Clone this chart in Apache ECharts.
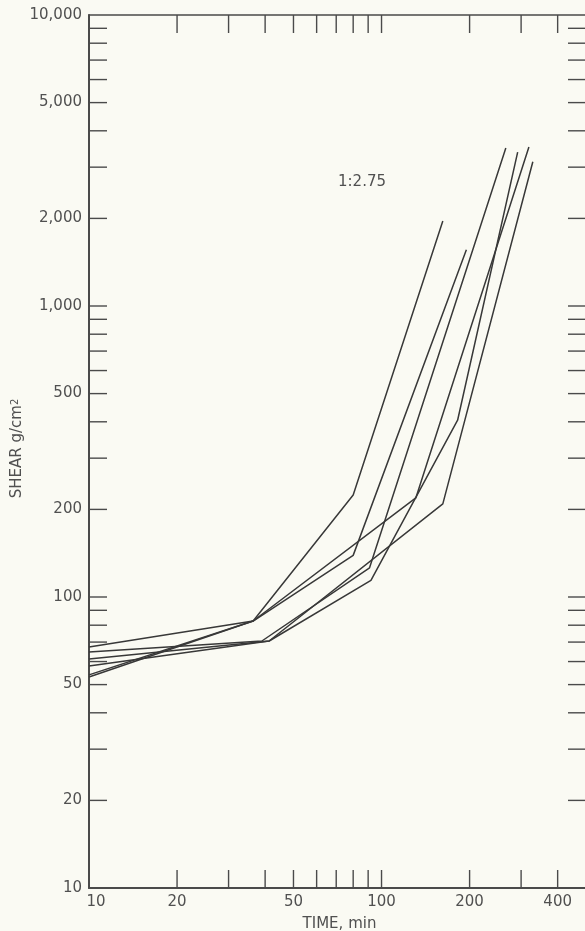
<!DOCTYPE html>
<html>
<head>
<meta charset="utf-8">
<script src="https://cdn.jsdelivr.net/npm/echarts@6/dist/echarts.min.js"></script>
<style>
html,body{margin:0;padding:0;background:#fafaf3;}
#chart{width:585px;height:931px;}
</style>
</head>
<body>
<div id="chart"></div>
<script>
// ---- data ----
const timeA = [10, 36.4, 80, 162];
const shearA = [53.1, 82.7, 224, 1960];
const timeB = [10, 36.4, 80, 195];
const shearB = [67.3, 82.7, 139, 1560];
const timeC = [10, 39, 91, 266];
const shearC = [64.7, 70.6, 126, 3490];
const timeD = [10, 41.3, 162, 329];
const shearD = [57.9, 70.6, 209, 3130];
const timeE = [10, 36.4, 131, 319];
const shearE = [54.0, 82.7, 219, 3520];
const timeF = [10, 41.3, 92, 182, 292];
const shearF = [61.2, 70.6, 114, 405, 3380];

const xTickValues = [20, 30, 40, 50, 60, 70, 80, 90, 100, 200, 300, 400];
const yTickValues = [20, 30, 40, 50, 60, 70, 80, 90, 100, 200, 300, 400, 500, 600, 700, 800, 900,
                     1000, 2000, 3000, 4000, 5000, 6000, 7000, 8000, 9000];
const xLabelValues = [10, 20, 50, 100, 200, 400];
const xTickLabels = ['10', '20', '50', '100', '200', '400'];
const yLabelValues = [10, 20, 50, 100, 200, 500, 1000, 2000, 5000, 10000];
const yTickLabels = ['10', '20', '50', '100', '200', '500', '1,000', '2,000', '5,000', '10,000'];

const X_MIN = 10, X_MAX = 500, Y_MIN = 10, Y_MAX = 10000;
const INK = '#383838';
const AXIS = '#4a4a4a';
const TEXT = '#505050';
const FONT = '15px "DejaVu Sans"';
const TICK = 18;

function pairs(xs, ys) { return xs.map((x, i) => [x, ys[i]]); }

const lineSeries = [
  [timeA, shearA], [timeB, shearB], [timeC, shearC],
  [timeD, shearD], [timeE, shearE], [timeF, shearF]
].map(([xs, ys]) => ({
  type: 'line',
  data: pairs(xs, ys),
  symbol: 'none',
  silent: true,
  lineStyle: { color: INK, width: 1.5 },
  z: 3
}));

const chart = echarts.init(document.getElementById('chart'), null, { renderer: 'canvas' });
chart.setOption({
  backgroundColor: '#fafaf3',
  animation: false,
  grid: { left: 89, top: 15, width: 497, height: 873, outerBoundsMode: 'none', containLabel: false },
  xAxis: [{
    type: 'log', logBase: 10, min: X_MIN, max: X_MAX, position: 'bottom',
    axisLine: { show: true, lineStyle: { color: AXIS, width: 2 } },
    axisTick: { show: false }, axisLabel: { show: false }, splitLine: { show: false },
    name: 'TIME, min', nameLocation: 'middle', nameGap: 29,
    nameTextStyle: { color: TEXT, fontSize: 15, fontFamily: 'DejaVu Sans', padding: [0, 0, 0, 4] }
  }, {
    type: 'log', logBase: 10, min: X_MIN, max: X_MAX, position: 'top',
    axisLine: { show: true, lineStyle: { color: AXIS, width: 1.5 } },
    axisTick: { show: false }, axisLabel: { show: false }, splitLine: { show: false }
  }],
  yAxis: [{
    type: 'log', logBase: 10, min: Y_MIN, max: Y_MAX,
    axisLine: { show: true, lineStyle: { color: AXIS, width: 2 } },
    axisTick: { show: false }, axisLabel: { show: false }, splitLine: { show: false },
    name: 'SHEAR g/cm{sup|2}', nameLocation: 'middle', nameGap: 64, nameRotate: 90,
    nameTextStyle: {
      color: TEXT, fontSize: 15, fontFamily: 'DejaVu Sans', padding: [0, 0, 0, 6],
      rich: { sup: { fontSize: 10, verticalAlign: 'top', color: TEXT, fontFamily: 'DejaVu Sans' } }
    }
  }],
  graphic: [{
    type: 'text', left: 338, top: 175,
    style: { text: '1:2.75', fill: TEXT, font: '15px "DejaVu Sans"' }
  }],
  series: lineSeries.concat([
    {
      type: 'custom', silent: true, clip: false, z: 4,
      data: xTickValues.map(v => [v, Y_MIN]),
      renderItem: (params, api) => {
        const v = api.value(0);
        const b = api.coord([v, Y_MIN]);
        const t = api.coord([v, Y_MAX]);
        return { type: 'group', children: [
          { type: 'line', shape: { x1: b[0], y1: b[1], x2: b[0], y2: b[1] - TICK }, style: { stroke: AXIS, lineWidth: 1.4 } },
          { type: 'line', shape: { x1: t[0], y1: t[1], x2: t[0], y2: t[1] + TICK }, style: { stroke: AXIS, lineWidth: 1.4 } }
        ]};
      }
    },
    {
      type: 'custom', silent: true, clip: false, z: 4,
      data: yTickValues.map(v => [X_MIN, v]),
      renderItem: (params, api) => {
        const v = api.value(1);
        const l = api.coord([X_MIN, v]);
        const r = api.coord([X_MAX, v]);
        return { type: 'group', children: [
          { type: 'line', shape: { x1: l[0], y1: l[1], x2: l[0] + TICK, y2: l[1] }, style: { stroke: AXIS, lineWidth: 1.4 } },
          { type: 'line', shape: { x1: r[0], y1: r[1], x2: r[0] - TICK, y2: r[1] }, style: { stroke: AXIS, lineWidth: 1.4 } }
        ]};
      }
    },
    {
      type: 'custom', silent: true, clip: false, z: 4,
      data: xLabelValues.map(v => [v, Y_MIN]),
      renderItem: (params, api) => {
        const p = api.coord([api.value(0), Y_MIN]);
        const dx = params.dataIndex === 0 ? 7 : 0;
        return { type: 'text', x: p[0] + dx, y: p[1] + 14,
          style: { text: xTickLabels[params.dataIndex], fill: TEXT, font: FONT, align: 'center', verticalAlign: 'middle' } };
      }
    },
    {
      type: 'custom', silent: true, clip: false, z: 4,
      data: yLabelValues.map(v => [X_MIN, v]),
      renderItem: (params, api) => {
        const p = api.coord([X_MIN, api.value(1)]);
        return { type: 'text', x: p[0] - 7, y: p[1],
          style: { text: yTickLabels[params.dataIndex], fill: TEXT, font: FONT, align: 'right', verticalAlign: 'middle' } };
      }
    }
  ])
});
</script>
</body>
</html>
